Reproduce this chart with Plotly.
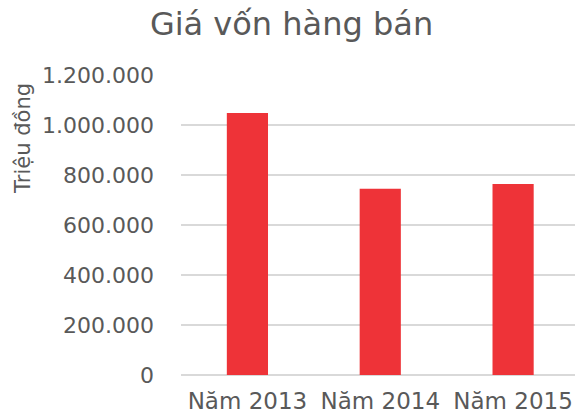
import plotly.graph_objects as go

# Data
years = ["Năm 2013", "Năm 2014", "Năm 2015"]
cost_of_goods = [1048000, 745000, 764000]
y_ticks = [0, 200000, 400000, 600000, 800000, 1000000, 1200000]

font_family = "DejaVu Sans"
text_color = "#595959"

fig = go.Figure(go.Bar(
    x=years,
    y=cost_of_goods,
    marker=dict(color="#EE3338", line=dict(width=0)),
))

fig.update_layout(
    width=575,
    height=418,
    margin=dict(l=181, r=0, t=75, b=43),
    paper_bgcolor="white",
    plot_bgcolor="white",
    separators=",.",
    bargap=0.69,
    showlegend=False,
    font=dict(family=font_family, color=text_color),
    title=dict(
        text="Giá vốn hàng bán",
        font=dict(family=font_family, size=32, color=text_color),
        x=0.507,
        xanchor="center",
        y=0.971,
        yanchor="top",
    ),
    xaxis=dict(
        range=[-0.5, 2.466],
        automargin=False,
        showgrid=False,
        showline=False,
        zeroline=False,
        ticks="",
        tickfont=dict(size=23, color=text_color),
        ticklabelstandoff=10,
    ),
    yaxis=dict(
        range=[0, 1200000],
        automargin=False,
        tickvals=y_ticks,
        tickformat=",d",
        showgrid=True,
        gridcolor="#D9D9D9",
        gridwidth=1.5,
        zeroline=True,
        zerolinecolor="#D9D9D9",
        zerolinewidth=1.5,
        showline=False,
        ticks="",
        tickfont=dict(size=22, color=text_color),
        ticklabelstandoff=26,
    ),
    annotations=[dict(
        text="Triệu đồng",
        textangle=-90,
        xref="paper",
        yref="paper",
        x=-0.401,
        xanchor="center",
        y=0.787,
        yanchor="middle",
        showarrow=False,
        font=dict(family=font_family, size=21, color=text_color),
    )],
)

# drop the default 8px page margin so the figure fills the window
fig.write_html(
    "out.html",
    config={"displayModeBar": False},
    post_script="document.body.style.margin='0';document.body.style.overflow='hidden';",
)
